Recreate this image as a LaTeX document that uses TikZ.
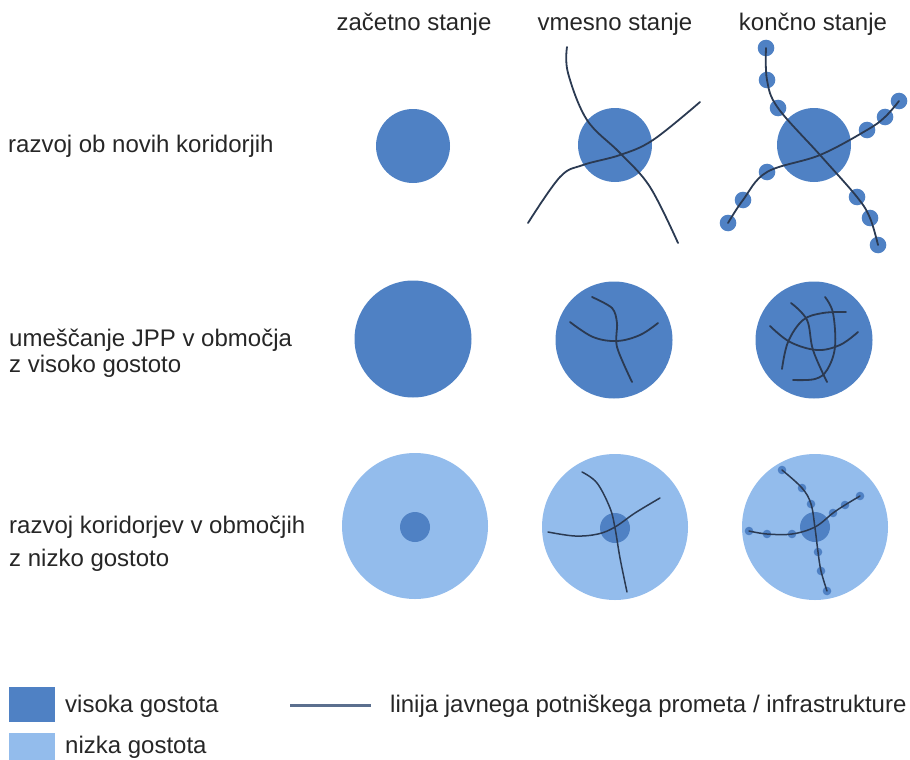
\documentclass[tikz,border=0pt]{standalone}
\usepackage{fontspec}
\setmainfont{Liberation Sans}
\definecolor{hiblue}{HTML}{4F81C4}
\definecolor{loblue}{HTML}{93BCEC}
\definecolor{railc}{HTML}{2B3A52}
\definecolor{legline}{HTML}{5B6F8E}
\definecolor{txt}{HTML}{262626}
\tikzset{
  lbl/.style={anchor=base west,inner sep=0pt,text=txt,font=\fontsize{24}{27}\selectfont},
  hdr/.style={anchor=base,inner sep=0pt,text=txt,font=\fontsize{24}{27}\selectfont},
  hiarea/.style={circle,fill=hiblue,inner sep=0pt,draw=none},
  loarea/.style={circle,fill=loblue,inner sep=0pt,draw=none},
  rail/.style={draw=railc,line width=1.8pt,line cap=round},
  stop/.style={fill=hiblue},
}
\begin{document}
\begin{tikzpicture}[x=1pt,y=-1pt]
\useasboundingbox (0,0) rectangle (910,760);
% headers
\node[hdr] (h1) at (414,31) {začetno stanje};
\node[hdr] (h2) at (615,31) {vmesno stanje};
\node[hdr] (h3) at (813,31) {končno stanje};
% row labels
\node[lbl] (r1) at (8,152) {razvoj ob novih koridorjih};
\node[lbl] (r2a) at (9,346) {umeščanje JPP v območja};
\node[lbl] (r2b) at (9,372) {z visoko gostoto};
\node[lbl] (r3a) at (9,533) {razvoj koridorjev v območjih};
\node[lbl] (r3b) at (9,566) {z nizko gostoto};

% ---------- row 1 ----------
\node[hiarea,minimum size=74pt] (c11) at (413,146) {};
\node[hiarea,minimum size=74pt] (c12) at (615,145) {};
\node[hiarea,minimum size=74pt] (c13) at (814,145) {};
\draw[rail] plot[smooth,tension=0.6] coordinates {(567,47) (568,73) (587,120) (620,153) (650,187) (678,243)};
\draw[rail] plot[smooth,tension=0.6] coordinates {(528,223) (560,177) (583,165) (620,155) (653,140) (700,102)};
\foreach \p in {(766,48),(767,80),(778,108),(857,197),(870,218),(878,245),(728,223),(743,200),(767,172),(867,130),(885,117),(899,101)}
  \fill[stop] \p circle (8.3);
\draw[rail] plot[smooth,tension=0.6] coordinates {(766,48) (767,80) (778,108) (820,155) (857,197) (870,218) (878,245)};
\draw[rail] plot[smooth,tension=0.6] coordinates {(728,223) (743,200) (767,172) (820,155) (867,130) (885,117) (899,101)};

% ---------- row 2 ----------
\node[hiarea,minimum size=117pt] (c21) at (413,339) {};
\node[hiarea,minimum size=117pt] (c22) at (614,340) {};
\node[hiarea,minimum size=117pt] (c23) at (814,340) {};
\draw[rail] plot[smooth,tension=0.6] coordinates {(570,322) (593,337) (617,341) (640,335) (658,323)};
\draw[rail] plot[smooth,tension=0.5] coordinates {(592,297) (612,308) (617,323) (617,347) (632,382)};
\draw[rail] plot[smooth,tension=0.6] coordinates {(770,326) (790,342) (817,350) (840,345) (858,332)};
\draw[rail] plot[smooth,tension=0.6] coordinates {(782,369) (788,342) (803,320) (823,313) (846,312)};
\draw[rail] plot[smooth,tension=0.6] coordinates {(791,303) (807,320) (813,350) (827,382)};
\draw[rail] plot[smooth,tension=0.6] coordinates {(825,297) (833,313) (835,347) (827,370) (815,379) (793,380)};

% ---------- row 3 ----------
\node[loarea,minimum size=146pt] (c31) at (415,526) {};
\node[loarea,minimum size=146pt] (c32) at (615,527) {};
\node[loarea,minimum size=146pt] (c33) at (815,527) {};
\node[hiarea,minimum size=30pt] (k31) at (415,527) {};
\node[hiarea,minimum size=30pt] (k32) at (615,528) {};
\node[hiarea,minimum size=30pt] (k33) at (815,527) {};
\draw[rail,line width=1.5pt] plot[smooth,tension=0.6] coordinates {(582,472) (597,483) (610,508) (615,528) (620,558) (627,592)};
\draw[rail,line width=1.5pt] plot[smooth,tension=0.6] coordinates {(548,532) (575,536) (598,534) (615,527) (635,513) (660,498)};
\foreach \p in {(782,470),(802,488),(811,504),(818,552),(821,571),(827,591),(749,531),(767,534),(792,534),(833,513),(845,505),(860,496)}
  \fill[stop] \p circle (4.3);
\draw[rail,line width=1.5pt] plot[smooth,tension=0.6] coordinates {(782,470) (802,488) (811,504) (815,528) (818,552) (821,571) (827,591)};
\draw[rail,line width=1.5pt] plot[smooth,tension=0.6] coordinates {(749,531) (767,534) (792,534) (815,527) (833,513) (845,505) (860,496)};

% ---------- legend ----------
\fill[hiblue] (9,687) rectangle (55,722) coordinate (lgA);
\fill[loblue] (9,733) rectangle (55,760) coordinate (lgB);
\node[lbl] (t1) at (65,712) {visoka gostota};
\node[lbl] (t2) at (65,753) {nizka gostota};
\coordinate (l1) at (290,705);
\coordinate (l2) at (371,705);
\draw[draw=legline,line width=3pt] (l1) -- (l2);
\node[lbl] (t3) at (390,712) {linija javnega potniškega prometa / infrastrukture};
\end{tikzpicture}
\end{document}
